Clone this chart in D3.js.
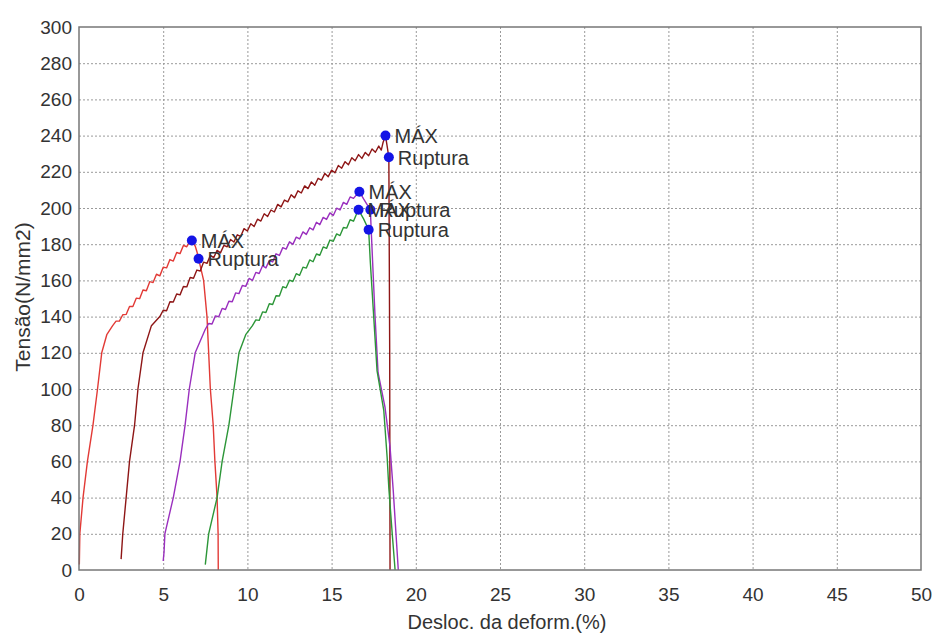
<!DOCTYPE html>
<html>
<head>
<meta charset="utf-8">
<script src="https://cdn.jsdelivr.net/npm/d3@7"></script>
<style>
body { margin: 0; background: #fff; }
text { font-family: "Liberation Sans", Arial, sans-serif; }
</style>
</head>
<body>
<svg width="938" height="635"></svg>
<script>
const xTicks = [0, 5, 10, 15, 20, 25, 30, 35, 40, 45, 50];
const yTicks = [0, 20, 40, 60, 80, 100, 120, 140, 160, 180, 200, 220, 240, 260, 280, 300];

// [deformacao %, tensao N/mm2]
const cp1 = [
    [0.02, 3], [0.05, 20], [0.24, 40], [0.5, 60], [0.83, 80], [1.1, 100], [1.35, 120], [1.65, 130], [2.0, 135],
    [2.2, 137.5], [2.4, 137.5], [2.6, 141], [2.8, 141.2], [3.0, 145.6], [3.2, 145.6], [3.4, 150.2], [3.6, 149.9],
    [3.8, 154.7], [4.0, 154.3], [4.2, 159.3], [4.4, 158.8], [4.6, 163.4], [4.8, 162.5], [5.0, 167.3], [5.2, 166.9],
    [5.4, 171.5], [5.6, 170.7], [5.8, 175.4], [6.0, 174.8], [6.2, 179.3], [6.4, 178.6], [6.55, 181.2], [6.7, 182],
    [6.9, 179], [7.0, 176], [7.1, 172], [7.4, 160], [7.6, 140], [7.7, 120], [7.8, 100],
    [7.97, 80], [8.07, 60], [8.2, 40], [8.26, 20], [8.27, 0]
];
const cp2 = [
    [2.5, 6], [2.6, 20], [2.8, 40], [3.0, 60], [3.3, 80], [3.5, 100], [3.8, 120], [4.3, 135], [4.8, 140],
    [5.0, 143.5], [5.2, 143.2], [5.4, 148.2], [5.6, 148.1], [5.8, 152.5], [6.0, 152], [6.2, 156.6], [6.4, 156.4],
    [6.6, 161.6], [6.8, 161.2], [7.0, 165.7], [7.2, 165.2], [7.4, 170.1], [7.6, 169.4], [7.8, 173.8], [8.0, 172.6],
    [8.2, 176.6], [8.4, 175.2], [8.6, 179.3], [8.8, 178.6], [9.0, 182.6], [9.2, 181.2], [9.4, 185.2], [9.6, 184.3],
    [9.8, 188.6], [10.0, 187.3], [10.2, 191.3], [10.4, 189.8], [10.6, 193.8], [10.8, 192.8], [11.0, 196.8], [11.2, 195.3],
    [11.4, 198.9], [11.6, 197.8], [11.8, 202], [12.0, 200.6], [12.2, 204.4], [12.4, 203.4], [12.6, 207.3], [12.8, 205.6],
    [13.0, 209.5], [13.2, 208.3], [13.4, 212.2], [13.6, 210.7], [13.8, 214.4], [14.0, 212.6], [14.2, 216.4], [14.4, 215.4],
    [14.6, 219.1], [14.8, 217.3], [15.0, 220.9], [15.2, 219.5], [15.4, 223.5], [15.6, 222], [15.8, 225.6], [16.0, 223.9],
    [16.2, 227.8], [16.4, 226.1], [16.6, 229.5], [16.8, 227.4], [17.0, 230.7], [17.2, 228.9], [17.4, 232.6], [17.6, 230.8],
    [17.8, 234.2], [17.95, 232], [18.05, 236], [18.2, 240], [18.3, 234], [18.4, 228], [18.45, 120], [18.47, 0]
];
const cp3 = [
    [5.0, 5], [5.05, 10], [5.1, 20], [5.6, 40], [6.0, 60], [6.3, 80], [6.55, 100], [6.9, 120], [7.5, 133],
    [7.7, 136.2], [7.9, 135.9], [8.1, 140.4], [8.3, 139.9], [8.5, 144.5], [8.7, 143.9], [8.9, 148.5], [9.1, 148.2],
    [9.3, 153.1], [9.5, 152.7], [9.7, 157.2], [9.9, 156.7], [10.1, 161.1], [10.3, 160], [10.5, 164.4], [10.7, 163.8],
    [10.9, 168.1], [11.1, 166.9], [11.3, 171], [11.5, 170.2], [11.7, 174.7], [11.9, 173.8], [12.1, 178.1], [12.3, 177.3],
    [12.5, 181.3], [12.7, 179.9], [12.9, 183.9], [13.1, 182.9], [13.3, 186.8], [13.5, 185.4], [13.7, 189.1], [13.9, 187.9],
    [14.1, 192.1], [14.3, 190.8], [14.5, 194.8], [14.7, 193.7], [14.9, 197.3], [15.1, 195.9], [15.3, 199.9], [15.5, 198.9],
    [15.7, 203.1], [15.9, 202], [16.1, 206.1], [16.3, 205.3], [16.45, 207], [16.65, 209],
    [16.9, 205], [17.1, 202], [17.3, 199], [17.38, 182], [17.58, 140], [17.76, 109], [18.17, 90], [18.47, 68],
    [18.66, 44], [18.96, 0]
];
const cp4 = [
    [7.5, 3], [7.7, 20], [8.2, 40], [8.5, 60], [8.9, 80], [9.2, 100], [9.5, 120], [9.9, 130], [10.3, 135],
    [10.5, 138.2], [10.7, 137.9], [10.9, 142.6], [11.1, 142.3], [11.3, 147.1], [11.5, 146.7], [11.7, 151.5], [11.9, 151.4],
    [12.1, 156.5], [12.3, 155.9], [12.5, 160.1], [12.7, 159.4], [12.9, 163.7], [13.1, 162.8], [13.3, 167.3], [13.5, 166.8],
    [13.7, 171.3], [13.9, 170.3], [14.1, 174.6], [14.3, 173.9], [14.5, 178.5], [14.7, 177.7], [14.9, 182.3], [15.1, 181.6],
    [15.3, 185.7], [15.5, 184.8], [15.7, 189.2], [15.9, 188.9], [16.1, 193.5], [16.3, 192.7], [16.45, 196], [16.6, 199],
    [16.9, 194], [17.2, 188], [17.3, 170], [17.5, 140], [17.7, 110], [18.1, 88], [18.3, 62], [18.4, 45],
    [18.6, 20], [18.77, 0]
];
const curves = [cp1, cp2, cp3, cp4];
const curveColors = ['#e23a36', '#8e1616', '#9a2fbe', '#2c9638'];

const markX = [6.7, 7.1, 18.2, 18.4, 16.65, 17.3, 16.6, 17.2];
const markY = [182, 172, 240, 228, 209, 199, 199, 188];
const markLabel = ['MÁX', 'Ruptura', 'MÁX', 'Ruptura', 'MÁX', 'Ruptura', 'MÁX', 'Ruptura'];

const svg = d3.select('svg');
const width = +svg.attr('width');
const height = +svg.attr('height');
const margin = { top: 27, right: 17, bottom: 65, left: 79 };
const innerWidth = width - margin.left - margin.right;
const innerHeight = height - margin.top - margin.bottom;

const xScale = d3.scaleLinear().domain([0, 50]).range([0, innerWidth]);
const yScale = d3.scaleLinear().domain([0, 300]).range([innerHeight, 0]);

const g = svg.append('g')
    .attr('transform', `translate(${margin.left},${margin.top})`);

// dotted grid
g.append('g')
    .call(d3.axisBottom(xScale).tickValues(xTicks.slice(1, -1)).tickSize(innerHeight).tickFormat(''))
    .call(a => a.select('.domain').remove())
    .call(a => a.selectAll('text').remove())
    .selectAll('line')
        .attr('stroke', '#9a9a9a')
        .attr('stroke-dasharray', '2,2');
g.append('g')
    .call(d3.axisLeft(yScale).tickValues(yTicks.slice(1, -1)).tickSize(-innerWidth).tickFormat(''))
    .call(a => a.select('.domain').remove())
    .call(a => a.selectAll('text').remove())
    .selectAll('line')
        .attr('stroke', '#9a9a9a')
        .attr('stroke-dasharray', '2,2');

// tick labels
g.append('g')
    .attr('transform', `translate(0,${innerHeight})`)
    .call(d3.axisBottom(xScale).tickValues(xTicks).tickSize(0).tickPadding(18))
    .call(a => a.select('.domain').remove())
    .selectAll('text')
        .style('font-size', '19px')
        .style('font-family', '"Liberation Sans", Arial, sans-serif')
        .attr('fill', '#333');
g.append('g')
    .call(d3.axisLeft(yScale).tickValues(yTicks).tickSize(0).tickPadding(7))
    .call(a => a.select('.domain').remove())
    .selectAll('text')
        .style('font-size', '19px')
        .style('font-family', '"Liberation Sans", Arial, sans-serif')
        .attr('fill', '#333');

const line = d3.line().x(d => xScale(d[0])).y(d => yScale(d[1]));

g.selectAll('.curve').data(curves)
    .enter().append('path')
        .attr('class', 'curve')
        .attr('d', line)
        .attr('fill', 'none')
        .attr('stroke', (d, i) => curveColors[i])
        .attr('stroke-width', 1.4)
        .attr('stroke-linejoin', 'round');

// frame
g.append('rect')
    .attr('width', innerWidth)
    .attr('height', innerHeight)
    .attr('fill', 'none')
    .attr('stroke', '#777')
    .attr('stroke-width', 1.5);

g.selectAll('.mark').data(markX)
    .enter().append('circle')
        .attr('class', 'mark')
        .attr('cx', d => xScale(d))
        .attr('cy', (d, i) => yScale(markY[i]))
        .attr('r', 5)
        .attr('fill', '#1414e6');

g.selectAll('.mark-label').data(markLabel)
    .enter().append('text')
        .attr('class', 'mark-label')
        .attr('x', (d, i) => xScale(markX[i]) + 9)
        .attr('y', (d, i) => yScale(markY[i]))
        .attr('dy', '0.36em')
        .attr('fill', '#333')
        .style('font-size', '20px')
        .text(d => d);

svg.append('text')
    .attr('x', 507)
    .attr('y', 629)
    .attr('text-anchor', 'middle')
    .attr('fill', '#333')
    .style('font-size', '20px')
    .text('Desloc. da deform.(%)');

svg.append('text')
    .attr('transform', 'translate(22,297) rotate(-90)')
    .attr('text-anchor', 'middle')
    .attr('dy', '0.36em')
    .attr('fill', '#333')
    .style('font-size', '21px')
    .text('Tensão(N/mm2)');
</script>
</body>
</html>
